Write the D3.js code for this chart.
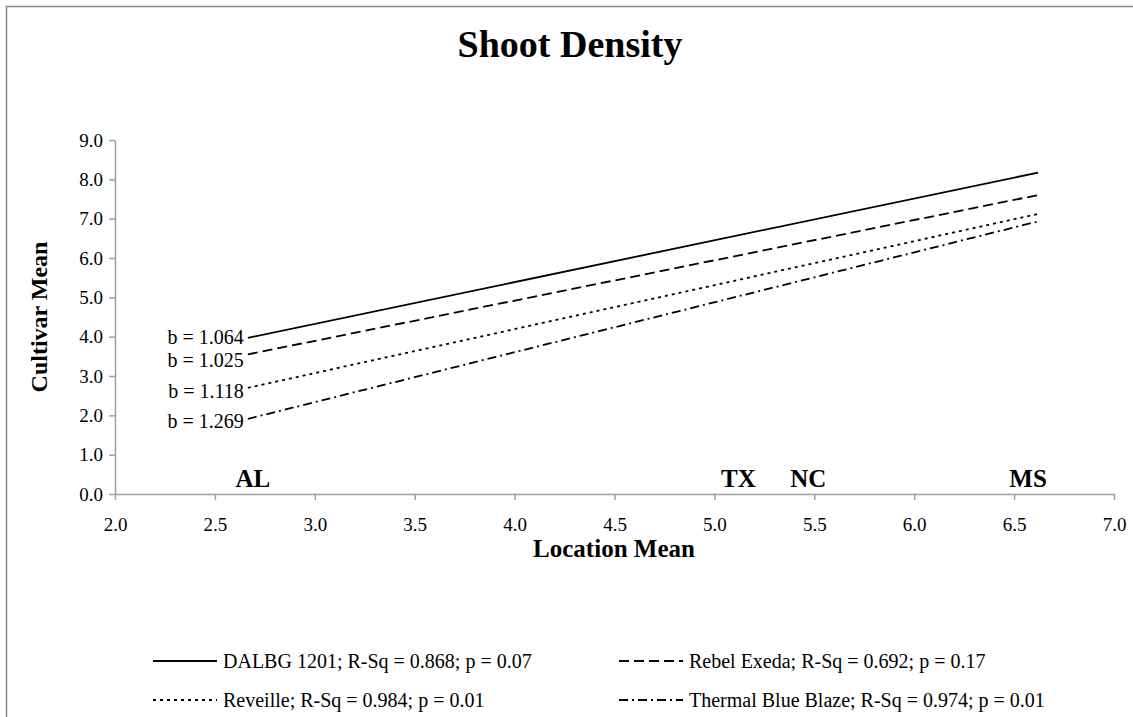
<!DOCTYPE html>
<html>
<head>
<meta charset="utf-8">
<script src="https://cdn.jsdelivr.net/npm/d3@7"></script>
<style>
  html, body { margin: 0; padding: 0; background: #fff; }
  svg { display: block; }
  text { font-family: "Liberation Serif", "Times New Roman", serif; fill: #000; }
</style>
</head>
<body>
<svg id="chart" width="1133" height="717"></svg>
<script>
// ---------- data ----------
const cultivars = ["DALBG 1201", "Rebel Exeda", "Reveille", "Thermal Blue Blaze"];
const rSquared = ["0.868", "0.692", "0.984", "0.974"];
const pValues = ["0.07", "0.17", "0.01", "0.01"];
const slopes = ["1.064", "1.025", "1.118", "1.269"];
const lineX = [2.665, 6.62];                 // location mean range (AL .. MS)
const valuesAtStart = [3.97, 3.55, 2.70, 1.91];
const valuesAtEnd = [8.17, 7.60, 7.12, 6.93];
const slopeLabelY = [4.0, 3.41, 2.63, 1.86];
const locations = ["AL", "TX", "NC", "MS"];
const locationLabelX = [2.69, 5.12, 5.47, 6.57];
const xTicks = [2.0, 2.5, 3.0, 3.5, 4.0, 4.5, 5.0, 5.5, 6.0, 6.5, 7.0];
const yTicks = [0, 1, 2, 3, 4, 5, 6, 7, 8, 9];
const dashes = [null, "10,5", "3,4", "9,4,2,4"];

// ---------- layout ----------
const svg = d3.select("#chart");
const x = d3.scaleLinear().domain([2, 7]).range([115, 1114]);
const y = d3.scaleLinear().domain([0, 9]).range([494, 140]);
const axisColor = "#a0a0a0";

// outer frame
svg.append("rect").attr("x", 6.5).attr("y", 6.5).attr("width", 1140).attr("height", 720)
  .attr("fill", "none").attr("stroke", "#888").attr("stroke-width", 1.5);

// title
svg.append("text").attr("x", 570).attr("y", 57).attr("text-anchor", "middle")
  .attr("font-size", 38).attr("font-weight", "bold").text("Shoot Density");

// axes
const xAxis = svg.append("g").attr("transform", `translate(0,${y(0)})`)
  .call(d3.axisBottom(x).tickValues(xTicks).tickFormat(d3.format(".1f")).tickSize(6).tickSizeOuter(0));
const yAxis = svg.append("g").attr("transform", `translate(${x(2)},0)`)
  .call(d3.axisLeft(y).tickValues(yTicks).tickFormat(d3.format(".1f")).tickSize(6).tickSizeOuter(0));
[xAxis, yAxis].forEach(g => {
  g.select(".domain").attr("stroke", axisColor).attr("stroke-width", 1.5);
  g.selectAll(".tick line").attr("stroke", axisColor).attr("stroke-width", 1.5);
  g.selectAll(".tick text").attr("font-family", "Liberation Serif, serif").attr("font-size", 19).attr("fill", "#000");
});
xAxis.selectAll(".tick text").attr("y", 24).attr("dy", "0.71em");
yAxis.selectAll(".tick text").attr("x", -12);

// axis titles
svg.append("text").attr("x", 614).attr("y", 557).attr("text-anchor", "middle")
  .attr("font-size", 25).attr("font-weight", "bold").text("Location Mean");
svg.append("text").attr("transform", `translate(47,${(y(0) + y(9)) / 2}) rotate(-90)`)
  .attr("text-anchor", "middle").attr("font-size", 24).attr("font-weight", "bold").text("Cultivar Mean");

// location labels
svg.selectAll("text.loc").data(locations).enter().append("text").attr("class", "loc")
  .attr("x", (d, i) => x(locationLabelX[i])).attr("y", 487).attr("text-anchor", "middle")
  .attr("font-size", 25).attr("font-weight", "bold").text(d => d);

// regression lines
const line = d3.line().x(d => x(d[0])).y(d => y(d[1]));
cultivars.forEach((c, i) => {
  const pts = [[lineX[0], valuesAtStart[i]], [lineX[1], valuesAtEnd[i]]];
  svg.append("path").attr("d", line(pts)).attr("fill", "none").attr("stroke", "#000")
    .attr("stroke-width", 1.8).attr("stroke-dasharray", dashes[i]);
  svg.append("text").attr("x", x(lineX[0]) - 4).attr("y", y(slopeLabelY[i])).attr("dy", "0.35em")
    .attr("text-anchor", "end").attr("font-size", 20).text("b = " + slopes[i]);
});

// legend
const legendPos = [[153, 661], [619, 661], [153, 700], [619, 700]];
cultivars.forEach((c, i) => {
  const [lx, ly] = legendPos[i];
  svg.append("line").attr("x1", lx).attr("x2", lx + 64).attr("y1", ly).attr("y2", ly)
    .attr("stroke", "#000").attr("stroke-width", 1.8).attr("stroke-dasharray", dashes[i]);
  svg.append("text").attr("x", lx + 70).attr("y", ly).attr("dy", "0.35em").attr("font-size", 20)
    .text(`${c}; R-Sq = ${rSquared[i]}; p = ${pValues[i]}`);
});
</script>
</body>
</html>
